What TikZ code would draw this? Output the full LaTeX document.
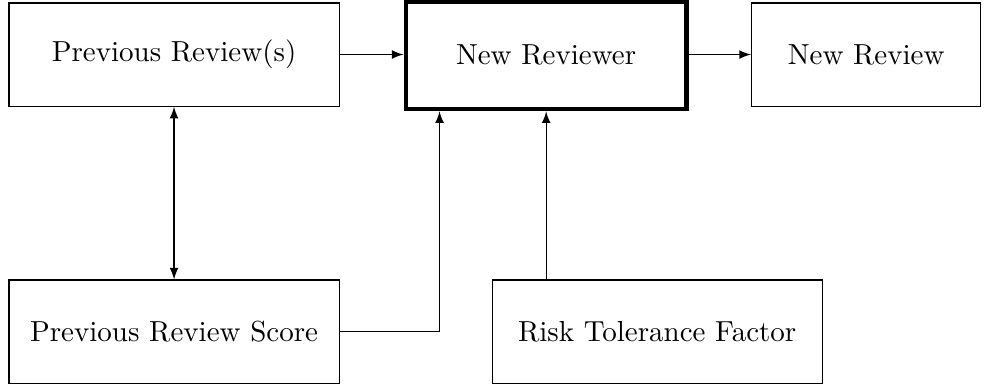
\documentclass[tikz,border=0pt]{standalone}
\usepackage{tikz}
\usetikzlibrary{arrows,positioning}
\usetikzlibrary{calc}

\tikzset{
    block/.style = {draw, rectangle, minimum width=4cm, minimum height=1.25cm}
}

\begin{document}
\begin{tikzpicture}

        % bounding box
        \useasboundingbox (0,0) rectangle (11.96,4.727);

        % top row
        \node[block] (prev_review) at (2.109,4.066) {Previous Review(s)};
        \node[block, line width=1.6pt, minimum width=3.4cm, minimum height=1.3cm] (new_reviewer) at (6.618,4.056) {New Reviewer};
        \node[block, minimum width=2.78cm] (new_review) at (10.496,4.066) {New Review};

        % bottom row
        \node[block] (prev_score) at (2.109,0.709) {Previous Review Score};
        \node[block] (risk_factor) at (7.963,0.709) {Risk Tolerance Factor};

        % helper point on the bottom of the new reviewer
        \coordinate (score_in) at ($(new_reviewer.south west) + (0.436,0)$);

        % arrows
        \draw[-latex] (prev_review.east) -- (prev_review.east -| new_reviewer.west);
        \draw[-latex] (new_reviewer.east |- new_review.west) -- (new_review.west);
        \draw[latex-latex] (prev_review) -- (prev_score);
        \draw[-latex] (prev_score.east) -| (score_in);
        \draw[-latex] (new_reviewer.south |- risk_factor.north) -- (new_reviewer.south);

\end{tikzpicture}
\end{document}
